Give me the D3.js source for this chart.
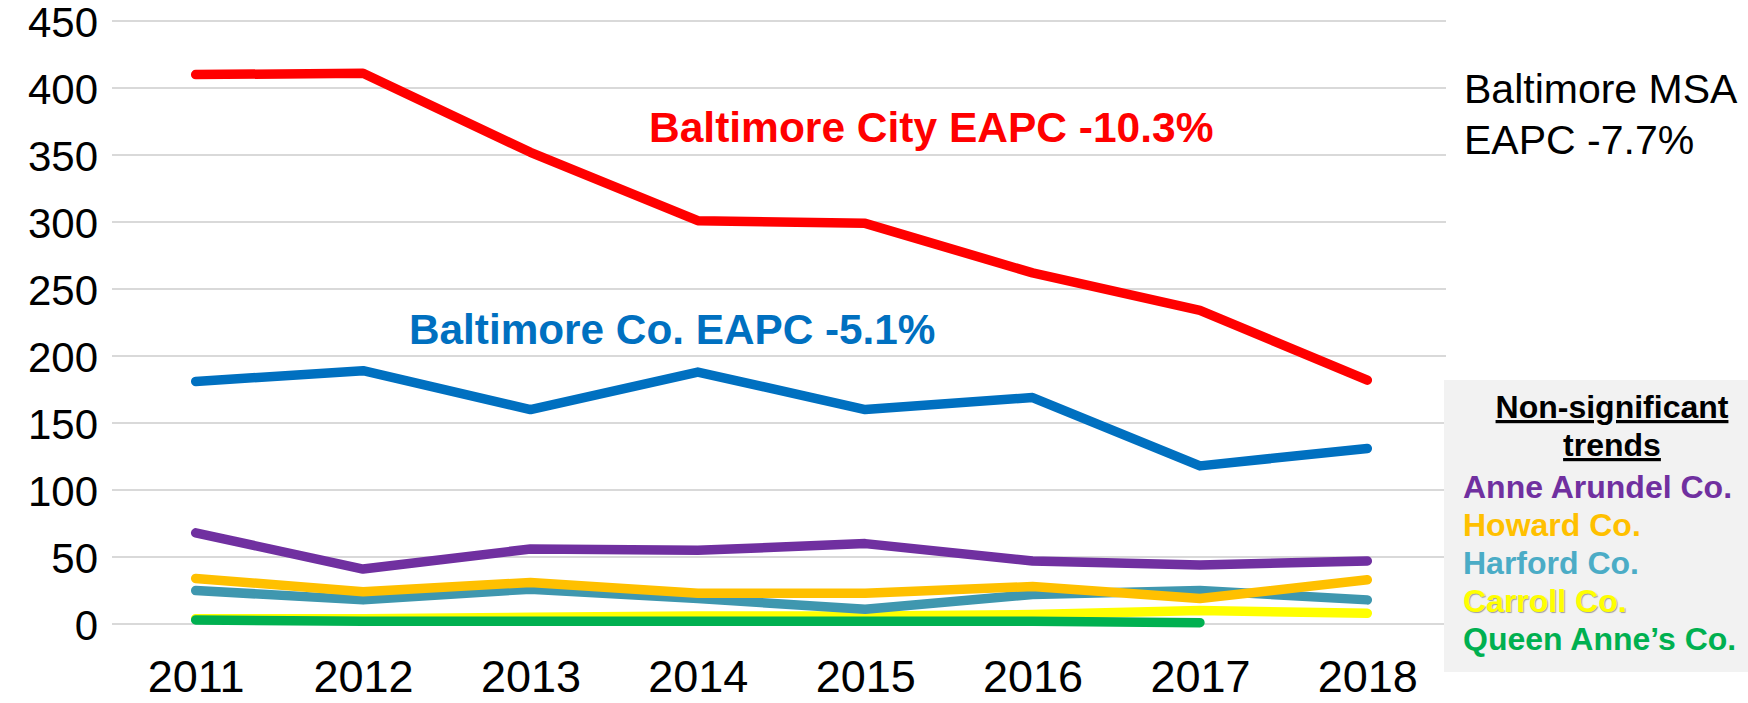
<!DOCTYPE html>
<html>
<head>
<meta charset="utf-8">
<script src="https://cdn.jsdelivr.net/npm/d3@7"></script>
<style>
  body { margin: 0; background: #fff; }
  svg { display: block; font-family: "Liberation Sans", Arial, sans-serif; }
</style>
</head>
<body>
<svg width="1748" height="703"></svg>
<script>
// data
var years = [2011, 2012, 2013, 2014, 2015, 2016, 2017, 2018];
var yTicks = [0, 50, 100, 150, 200, 250, 300, 350, 400, 450];

var baltCity = [410, 411, 352, 301, 299, 262, 234, 182];
var baltCo = [181, 189, 160, 188, 160, 169, 118, 131];
var anneArundel = [68, 41, 56, 55, 60, 47, 44, 47];
var howard = [34, 24, 31, 23, 23, 28, 19, 33];
var harford = [25, 18, 26, 19, 11, 22, 25, 18];
var carroll = [4, 4, 5, 6, 6, 7, 10, 8];
var queenAnnes = [3, 2, 2, 2, 2, 2, 1, null];

// draw order: bottom first
var seriesValues = [carroll, queenAnnes, harford, howard, anneArundel, baltCo, baltCity];
var seriesColors = ["#FFFF00", "#00B050", "#3F97AF", "#FFC000", "#7030A0", "#0070C0", "#FF0000"];

var legendNames = ["Anne Arundel Co.", "Howard Co.", "Harford Co.", "Carroll Co.", "Queen Anne\u2019s Co."];
var legendColors = ["#7030A0", "#FFC000", "#4BACC6", "#FFFF00", "#00B050"];

var svg = d3.select("svg");

// scales
var x = d3.scalePoint()
  .domain(years)
  .range([112, 1451])
  .padding(0.5);

var y = d3.scaleLinear()
  .domain([0, 450])
  .range([624, 21]);

// gridlines
svg.append("g")
  .selectAll("line")
  .data(yTicks)
  .enter()
  .append("line")
  .attr("x1", 112)
  .attr("x2", 1446)
  .attr("y1", function(d) { return y(d); })
  .attr("y2", function(d) { return y(d); })
  .attr("stroke", "#d9d9d9")
  .attr("stroke-width", 2);

// y axis labels
var yAxis = svg.append("g")
  .attr("transform", "translate(98,0)")
  .call(d3.axisLeft(y).tickValues(yTicks).tickSize(0).tickPadding(0));
yAxis.select(".domain").remove();
yAxis.selectAll("text")
  .attr("font-size", 42)
  .attr("font-family", "Liberation Sans, Arial, sans-serif")
  .attr("fill", "#000")
  .attr("dy", "0.36em");

// x axis labels
var xAxis = svg.append("g")
  .attr("transform", "translate(0,692)")
  .call(d3.axisBottom(x).tickSize(0).tickPadding(0));
xAxis.select(".domain").remove();
xAxis.selectAll("text")
  .attr("font-size", 45)
  .attr("font-family", "Liberation Sans, Arial, sans-serif")
  .attr("fill", "#000")
  .attr("dy", 0);

// lines
var line = d3.line()
  .defined(function(d) { return d != null; })
  .x(function(d, i) { return x(years[i]); })
  .y(function(d) { return y(d); });

svg.append("g")
  .selectAll("path")
  .data(seriesValues)
  .enter()
  .append("path")
  .attr("d", function(d) { return line(d); })
  .attr("fill", "none")
  .attr("stroke", function(d, i) { return seriesColors[i]; })
  .attr("stroke-width", 9.5)
  .attr("stroke-linecap", "round")
  .attr("stroke-linejoin", "round");

// annotations
svg.append("text")
  .attr("x", 649)
  .attr("y", 142)
  .attr("font-size", 42.5)
  .attr("font-weight", "bold")
  .attr("fill", "#FF0000")
  .text("Baltimore City EAPC -10.3%");

svg.append("text")
  .attr("x", 409)
  .attr("y", 344)
  .attr("font-size", 42.3)
  .attr("font-weight", "bold")
  .attr("fill", "#0070C0")
  .text("Baltimore Co. EAPC -5.1%");

svg.append("text")
  .attr("x", 1464)
  .attr("y", 103)
  .attr("font-size", 41)
  .attr("fill", "#000")
  .text("Baltimore MSA");

svg.append("text")
  .attr("x", 1464)
  .attr("y", 154)
  .attr("font-size", 41)
  .attr("fill", "#000")
  .text("EAPC -7.7%");

// legend box
var legend = svg.append("g");
legend.append("rect")
  .attr("x", 1444)
  .attr("y", 380)
  .attr("width", 304)
  .attr("height", 292)
  .attr("fill", "#f2f2f2");

legend.append("text")
  .attr("x", 1612)
  .attr("y", 418)
  .attr("text-anchor", "middle")
  .attr("font-size", 32)
  .attr("font-weight", "bold")
  .attr("text-decoration", "underline")
  .text("Non-significant");

legend.append("text")
  .attr("x", 1612)
  .attr("y", 456)
  .attr("text-anchor", "middle")
  .attr("font-size", 32)
  .attr("font-weight", "bold")
  .attr("text-decoration", "underline")
  .text("trends");

legend.selectAll(".item")
  .data(legendNames)
  .enter()
  .append("text")
  .attr("class", "item")
  .attr("x", 1463)
  .attr("y", function(d, i) { return 498 + i * 38; })
  .attr("font-size", 32)
  .attr("font-weight", "bold")
  .attr("fill", function(d, i) { return legendColors[i]; })
  .style("text-shadow", function(d, i) { return i == 3 ? "1px 1px 1px rgba(0,0,0,0.35)" : null; })
  .text(function(d) { return d; });
</script>
</body>
</html>
